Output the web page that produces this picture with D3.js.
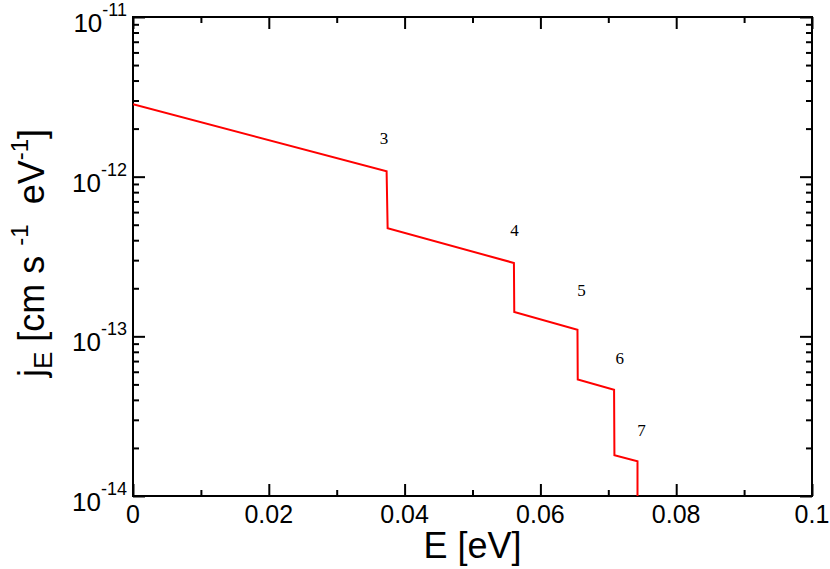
<!DOCTYPE html>
<html>
<head>
<meta charset="utf-8">
<script src="https://cdn.jsdelivr.net/npm/d3@7"></script>
<style>
  body { margin: 0; background: #fff; }
  svg { display: block; font-family: "Liberation Sans", Arial, sans-serif; }
</style>
</head>
<body>
<svg id="chart" width="830" height="569"></svg>
<script>
// red curve
const energy = [0, 0.03735, 0.0375, 0.0561, 0.05615, 0.06546, 0.06550, 0.07085, 0.0709, 0.0743, 0.0743]
const flux = [2.84e-12, 1.08e-12, 4.76e-13, 2.88e-13, 1.42e-13, 1.10e-13, 5.36e-14, 4.63e-14, 1.80e-14, 1.65e-14, 8e-15]

// level annotations
const levelNames = ['3', '4', '5', '6', '7']
const levelE = [0.03695, 0.05619, 0.06605, 0.07169, 0.07489]
const levelJ = [1.60e-12, 4.22e-13, 1.78e-13, 6.75e-14, 2.38e-14]

const xMajor = [0, 0.02, 0.04, 0.06, 0.08, 0.1]
const xMinor = [0.01, 0.03, 0.05, 0.07, 0.09]
const xLabels = ['0', '0.02', '0.04', '0.06', '0.08', '0.1']
const yMajor = [1e-14, 1e-13, 1e-12, 1e-11]
const yExp = ['-14', '-13', '-12', '-11']

const margin = { top: 17, right: 18, bottom: 73, left: 133 }
const svg = d3.select('#chart')
const width = +svg.attr('width')
const height = +svg.attr('height')
const innerWidth = width - margin.left - margin.right
const innerHeight = height - margin.top - margin.bottom

const x = d3.scaleLinear().domain([0, 0.1]).range([0, innerWidth])
const y = d3.scaleLog().domain([1e-14, 1e-11]).range([innerHeight, 0])

const yMinor = []
yMajor.slice(0, -1).forEach(d => { for (let k = 2; k < 10; k++) yMinor.push(d * k) })

const g = svg.append('g').attr('transform', `translate(${margin.left},${margin.top})`)

g.append('clipPath').attr('id', 'clip')
  .append('rect').attr('width', innerWidth).attr('height', innerHeight)

const tickAxis = (axis, cls, transform) => {
  const a = g.append('g').attr('class', cls).attr('transform', transform || null).call(axis)
  a.select('.domain').remove()
  a.selectAll('text').remove()
  a.selectAll('line').attr('stroke', '#000').attr('stroke-width', 2)
  return a
}

// major / minor ticks, mirrored on all four sides
tickAxis(d3.axisBottom(x).tickValues(xMajor).tickSize(-12), 'xMaj', `translate(0,${innerHeight})`)
tickAxis(d3.axisBottom(x).tickValues(xMinor).tickSize(-6), 'xMin', `translate(0,${innerHeight})`)
tickAxis(d3.axisTop(x).tickValues(xMajor).tickSize(-12), 'xMajT')
tickAxis(d3.axisTop(x).tickValues(xMinor).tickSize(-6), 'xMinT')
tickAxis(d3.axisLeft(y).tickValues(yMajor).tickSize(-12), 'yMaj')
tickAxis(d3.axisLeft(y).tickValues(yMinor).tickSize(-6), 'yMin')
tickAxis(d3.axisRight(y).tickValues(yMajor).tickSize(-12), 'yMajR', `translate(${innerWidth},0)`)
tickAxis(d3.axisRight(y).tickValues(yMinor).tickSize(-6), 'yMinR', `translate(${innerWidth},0)`)

// x tick labels
g.selectAll('text.xLab').data(xMajor).enter().append('text')
  .attr('class', 'xLab')
  .attr('x', d => x(d))
  .attr('y', innerHeight + 27)
  .attr('text-anchor', 'middle')
  .attr('font-size', 25)
  .text((d, i) => xLabels[i])

// y tick labels: 10 with superscript exponent
const yLab = g.selectAll('text.yLab').data(yMajor).enter().append('text')
  .attr('class', 'yLab')
  .attr('x', -6)
  .attr('y', d => y(d) + 15)
  .attr('text-anchor', 'end')
  .attr('font-size', 26)
yLab.append('tspan').text('10')
yLab.append('tspan').attr('dy', -16).attr('font-size', 18).text((d, i) => yExp[i])

// frame
g.append('rect')
  .attr('width', innerWidth).attr('height', innerHeight)
  .attr('fill', 'none').attr('stroke', '#000').attr('stroke-width', 2)

const line = d3.line().x((d, i) => x(energy[i])).y(d => y(d))
g.append('path')
  .datum(flux)
  .attr('clip-path', 'url(#clip)')
  .attr('fill', 'none')
  .attr('stroke', '#ff0000')
  .attr('stroke-width', 2)
  .attr('d', line)

g.selectAll('text.level').data(levelNames).enter().append('text')
  .attr('class', 'level')
  .attr('x', (d, i) => x(levelE[i]))
  .attr('y', (d, i) => y(levelJ[i]))
  .attr('text-anchor', 'middle')
  .attr('font-family', '"Liberation Serif", "Times New Roman", serif')
  .attr('font-size', 17)
  .text(d => d)

// axis titles
svg.append('text')
  .attr('x', margin.left + innerWidth / 2)
  .attr('y', 558)
  .attr('text-anchor', 'middle')
  .attr('font-size', 36)
  .text('E [eV]')

const yTitle = svg.append('text')
  .attr('transform', 'translate(44,253) rotate(-90)')
  .attr('text-anchor', 'middle')
  .attr('font-size', 36)
  .style('white-space', 'pre')
yTitle.append('tspan').text('j')
yTitle.append('tspan').attr('dy', 8).attr('font-size', 26).text('E')
yTitle.append('tspan').attr('dy', -8).text(' [cm s ')
yTitle.append('tspan').attr('dy', -16).attr('font-size', 24).text('-1')
yTitle.append('tspan').attr('dy', 16).text('  eV')
yTitle.append('tspan').attr('dy', -16).attr('font-size', 24).text('-1')
yTitle.append('tspan').attr('dy', 16).text(']')
</script>
</body>
</html>
